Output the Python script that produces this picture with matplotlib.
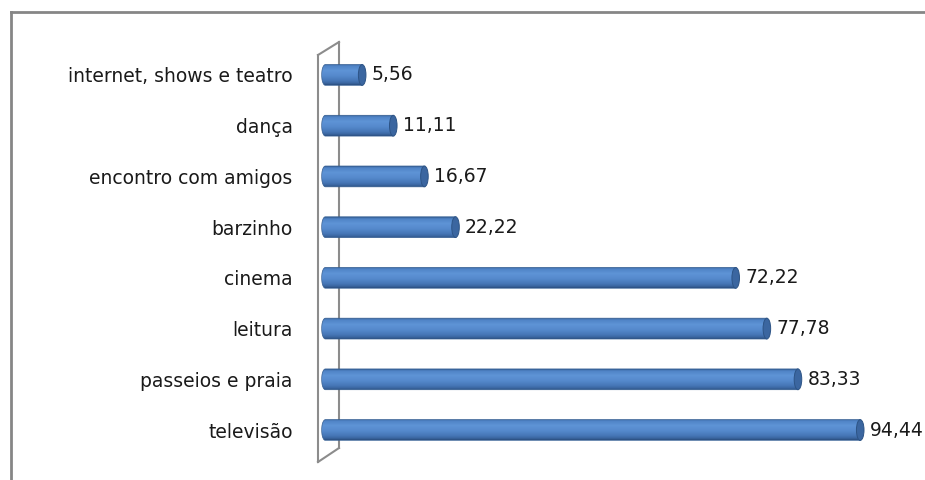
import numpy as np
import matplotlib
matplotlib.use("Agg")
import matplotlib.pyplot as plt
from matplotlib.colors import LinearSegmentedColormap
from matplotlib.patches import Ellipse, PathPatch
from matplotlib.path import Path
from matplotlib.lines import Line2D

categories = ["internet, shows e teatro", "dança", "encontro com amigos", "barzinho",
              "cinema", "leitura", "passeios e praia", "televisão"]
values = [5.56, 11.11, 16.67, 22.22, 72.22, 77.78, 83.33, 94.44]
value_labels = ["5,56", "11,11", "16,67", "22,22", "72,22", "77,78", "83,33", "94,44"]

W, H = 925, 480

def px(x, y):
    return x / W, 1 - y / H

fig = plt.figure(figsize=(W / 100, H / 100), dpi=100)
ax = fig.add_axes([319.8 / W, (H - 455.4) / H, 605.2 / W, 405.8 / H])
ax.set_facecolor("none")
ax.set_xlim(-2, 106)
ax.set_ylim(7.5, -0.5)

cyl = LinearSegmentedColormap.from_list(
    "cyl", [(0.0, "#365f96"), (0.08, "#4f83c6"), (0.3, "#5e94d6"), (0.55, "#568acd"),
            (0.8, "#4676b6"), (0.92, "#3a659f"), (1.0, "#2b4f80")])
grad = np.linspace(0, 1, 64).reshape(-1, 1)

bh = 0.41
cw = 1.35
x0 = -1.0
t = np.linspace(0, np.pi, 30)

for i, v in enumerate(values):
    yt, yb = i - bh / 2, i + bh / 2
    # body: straight top and bottom, rounded left end
    verts = [(x0, yt), (v, yt), (v, yb), (x0, yb)]
    verts += [(x0 - cw / 2 * np.sin(a), i + bh / 2 * np.cos(a)) for a in t]
    verts.append((x0, yt))
    path = Path(verts)
    clip = PathPatch(path, transform=ax.transData, facecolor="none", edgecolor="none")
    ax.add_patch(clip)
    im = ax.imshow(grad, cmap=cyl, aspect="auto", extent=(x0 - cw / 2, v, yb, yt),
                   zorder=2, interpolation="bilinear")
    im.set_clip_path(clip)
    ax.add_patch(PathPatch(path, facecolor="none", edgecolor="#335d92", lw=0.5, zorder=3))
    ax.add_patch(Ellipse((v, i), cw, bh, facecolor="#3b66a0", edgecolor="#2d5486",
                         lw=0.7, zorder=4))
    ax.annotate(value_labels[i], (v + cw / 2, i), xytext=(4, 0), textcoords="offset points",
                va="center", ha="left", fontsize=13.5, color="#1a1a1a")

ax.set_yticks(range(len(categories)))
ax.set_yticklabels(categories, fontsize=13.5, color="#1a1a1a")
ax.tick_params(axis="y", length=0, pad=19.5)
ax.set_xticks([])
for s in ax.spines.values():
    s.set_visible(False)

# 3D wall lines
wall = "#8c8c8c"
segs = [((339, 42), (339, 448)), ((318, 55), (318, 462)), ((318, 55), (339, 42)),
        ((318, 462), (339, 448))]
for (xa, ya), (xb, yb) in segs:
    (fa, ga), (fb, gb) = px(xa, ya), px(xb, yb)
    ax.add_artist(Line2D([fa, fb], [ga, gb], transform=fig.transFigure, color=wall,
                         lw=1.5, clip_on=False, zorder=0.5))

# chart border (top and left visible)
bx, by = px(11, 12)
fig.add_artist(Line2D([bx, 1], [by, by], transform=fig.transFigure, color="#868686", lw=2))
fig.add_artist(Line2D([bx, bx], [by, 0], transform=fig.transFigure, color="#868686", lw=2))

fig.savefig("out.png", dpi=100)
